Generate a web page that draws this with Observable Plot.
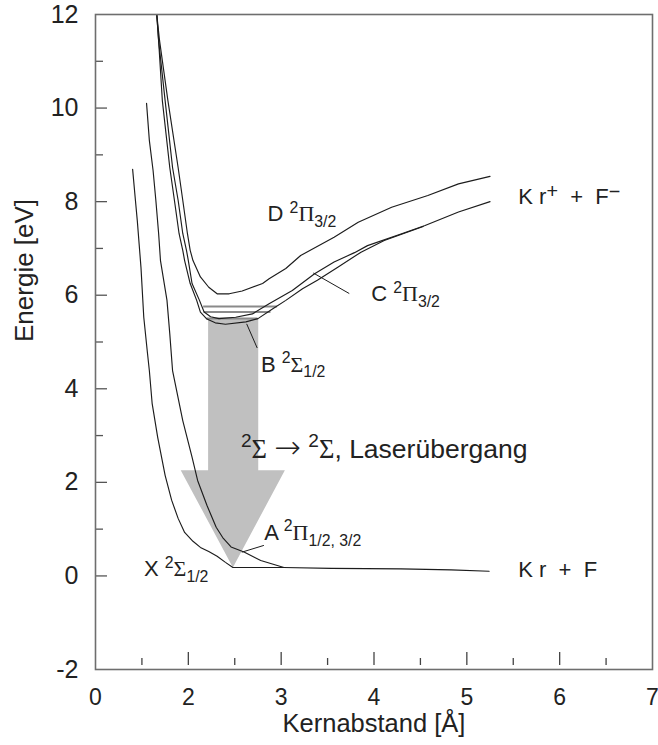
<!DOCTYPE html>
<html><head><meta charset="utf-8">
<script src="https://cdn.jsdelivr.net/npm/d3@7"></script>
<script src="https://cdn.jsdelivr.net/npm/@observablehq/plot@0.6"></script>
<style>
html,body{margin:0;padding:0;background:#fff;}
svg text{white-space:pre;}
</style>
</head><body><div id="chart"></div>
<script>
// Potential curves of KrF: [Kernabstand (Å), Energie (eV)]
const curveX = [[1.40,8.69],[1.43,8.03],[1.45,7.60],[1.49,6.59],[1.52,5.53],[1.56,4.76],[1.58,4.39],[1.61,3.69],[1.67,2.96],[1.75,2.15],[1.82,1.62],[1.89,1.23],[1.96,0.93],[2.05,0.74],[2.13,0.61],[2.22,0.52],[2.31,0.42],[2.40,0.29],[2.48,0.18],[3.03,0.18],[3.54,0.16],[4.29,0.15],[4.83,0.13],[5.24,0.10]];
const curveA = [[1.55,10.10],[1.58,9.31],[1.62,8.67],[1.65,8.03],[1.68,7.32],[1.70,6.74],[1.77,5.89],[1.80,5.18],[1.83,4.39],[1.94,3.32],[2.04,2.54],[2.10,2.04],[2.20,1.51],[2.30,1.04],[2.37,0.82],[2.46,0.62],[2.60,0.51],[2.78,0.33],[3.03,0.18]];
const curveD = [[1.66,12.0],[1.69,11.44],[1.78,10.16],[1.89,8.73],[1.94,8.03],[1.99,7.32],[2.02,6.96],[2.05,6.74],[2.13,6.39],[2.22,6.17],[2.31,6.03],[2.44,6.03],[2.58,6.09],[2.80,6.25],[2.87,6.35],[3.05,6.57],[3.21,6.85],[3.57,7.24],[3.83,7.56],[4.19,7.88],[4.58,8.13],[4.91,8.38],[5.25,8.54]];
const curveC = [[1.66,12.0],[1.68,11.44],[1.75,10.16],[1.83,8.73],[1.89,8.03],[1.94,7.32],[1.98,6.96],[2.00,6.74],[2.04,6.25],[2.12,5.89],[2.17,5.64],[2.24,5.54],[2.33,5.50],[2.51,5.53],[2.69,5.60],[2.87,5.82],[3.12,6.10],[3.36,6.46],[3.57,6.71],[3.79,6.91],[3.93,7.06],[4.29,7.31],[4.55,7.49],[4.91,7.78],[5.25,8.00]];
const curveB = [[1.66,12.0],[1.68,11.44],[1.72,10.16],[1.80,8.73],[1.85,8.03],[1.90,7.32],[1.94,6.96],[1.96,6.74],[2.02,6.25],[2.09,5.89],[2.13,5.64],[2.20,5.49],[2.29,5.41],[2.40,5.38],[2.62,5.43],[2.75,5.50],[2.91,5.71],[3.05,5.89],[3.23,6.14],[3.39,6.32],[3.61,6.60],[3.86,6.92],[4.11,7.17],[4.53,7.47]];

// Vibrational levels in the B state
const levelE  = [5.76, 5.64, 5.50];
const levelR1 = [2.165, 2.17, 2.20];
const levelR2 = [2.96, 2.89, 2.75];

// Laser transition arrow outline
const arrowR = [2.213, 2.753, 2.753, 3.04, 2.48, 1.918, 2.213];
const arrowE = [5.50, 5.50, 2.26, 2.26, 0.18, 2.26, 2.26];

// Leader lines (label -> curve)
const leaderC = [[3.73,6.04],[3.35,6.47]];
const leaderB = [[2.74,4.88],[2.63,5.38]];
const leaderA = [[2.81,0.65],[2.58,0.51]];

// State labels
const labelText = ["D {^2}Π{_3/2}", "C {^2}Π{_3/2}", "B {^2}Σ{_1/2}", "A {^2}Π{_1/2, 3/2}", "X {^2}Σ{_1/2}", "K r{*+}  +  F{*−}", "K r  +  F"];
const labelR = [2.854, 3.970, 2.782, 2.817, 1.522, 5.554, 5.554];
const labelE = [7.73, 6.02, 4.52, 0.92, 0.14, 8.11, 0.13];
const laserText = ["{^2}Σ → {^2}Σ, Laserübergang"];
const laserR = [2.566];
const laserE = [2.705];

// Axes
const xTickValues = [1, 2, 3, 4, 5, 6, 7];
const xTickLabels = ["0", "2", "3", "4", "5", "6", "7"];
const xMajor = [2, 3, 4, 5, 6];
const xMinor = [1.5, 2.5, 3.5, 4.5, 5.5, 6.5];
const yTickValues = [-2, 0, 2, 4, 6, 8, 10, 12];
const yTickLabels = ["-2", "0", "2", "4", "6", "8", "10", "12"];
const yMajor = [0, 2, 4, 6, 8, 10];
const yMinor = [1, 3, 5, 7, 9, 11];
const xTitle = "Kernabstand [Å]";
const yTitle = "Energie [eV]";

const W = 658, H = 745, mL = 95, mR = 6, mT = 14, mB = 76;
const pw = W - mL - mR, ph = H - mT - mB;
const curveStyle = {x: d => d[0], y: d => d[1], stroke: "#1c1c1c", strokeWidth: 1.15};

const plot = Plot.plot({
  width: W, height: H,
  marginLeft: mL, marginRight: mR, marginTop: mT, marginBottom: mB,
  style: {fontFamily: "'Liberation Sans', Arial, sans-serif", background: "#fff", color: "#222", overflow: "visible"},
  x: {domain: [1, 7]},
  y: {domain: [-2, 12]},
  marks: [
    Plot.line(arrowR.map((_, i) => i), {x: i => arrowR[i], y: i => arrowE[i], fill: "#c0c0c0", stroke: "none"}),
    Plot.ruleY(levelE.map((_, i) => i), {y: i => levelE[i], x1: i => levelR1[i], x2: i => levelR2[i], stroke: "#8a8a8a", strokeWidth: 2}),
    Plot.line(curveX, curveStyle),
    Plot.line(curveA, curveStyle),
    Plot.line(curveB, curveStyle),
    Plot.line(curveC, curveStyle),
    Plot.line(curveD, curveStyle),
    Plot.line(leaderC, {...curveStyle, strokeWidth: 1}),
    Plot.line(leaderB, {...curveStyle, strokeWidth: 1}),
    Plot.line(leaderA, {...curveStyle, strokeWidth: 1}),
    Plot.tickY(yMajor, {y: d => d, insetRight: pw - 12, stroke: "#555", strokeWidth: 1.3}),
    Plot.tickY(yMinor, {y: d => d, insetRight: pw - 8, stroke: "#555", strokeWidth: 1.3}),
    Plot.tickX(xMajor, {x: d => d, insetTop: ph - 4 - 13, insetBottom: 4, stroke: "#444", strokeWidth: 1.3}),
    Plot.tickX(xMinor, {x: d => d, insetTop: ph - 4 - 7, insetBottom: 4, stroke: "#444", strokeWidth: 1.3}),
    Plot.frame({stroke: "#6e6e6e", strokeWidth: 1.6}),
    Plot.axisY({ticks: yTickValues, tickFormat: d => yTickLabels[yTickValues.indexOf(d)], tickSize: 0, tickPadding: 17, fontSize: 25, label: null}),
    Plot.axisX({ticks: xTickValues, tickFormat: d => xTickLabels[xTickValues.indexOf(d)], tickSize: 0, tickPadding: 19, fontSize: 23, label: null}),
    Plot.text([xTitle], {text: d => d, frameAnchor: "bottom", dy: 62, fontSize: 25.5}),
    Plot.text([yTitle], {text: d => d, frameAnchor: "left", dx: -71, rotate: -90, fontSize: 26}),
    Plot.text(labelText.map((_, i) => i), {x: i => labelR[i], y: i => labelE[i], text: i => labelText[i], textAnchor: "start", fontSize: 22}),
    Plot.text([0], {x: i => laserR[i], y: i => laserE[i], text: i => laserText[i], textAnchor: "start", fontSize: 26.5})
  ]
});

// Rich text: {^..} superscript, {_..} subscript, {*..} raised full-size sign; Greek in serif
const SVGNS = "http://www.w3.org/2000/svg";
function rich(el, src, size) {
  while (el.firstChild) el.removeChild(el.firstChild);
  el.setAttributeNS("http://www.w3.org/XML/1998/namespace", "xml:space", "preserve");
  const re = /\{([\^_*])([^}]*)\}/g;
  const parts = []; let last = 0, m;
  while ((m = re.exec(src))) {
    if (m.index > last) parts.push(["", src.slice(last, m.index)]);
    parts.push([m[1], m[2]]);
    last = re.lastIndex;
  }
  if (last < src.length) parts.push(["", src.slice(last)]);
  let shift = 0;
  for (const [k, t] of parts) {
    const off = k === "^" ? -0.40 * size : k === "_" ? 0.27 * size : k === "*" ? -0.25 * size : 0;
    const fs = k === "" ? size : k === "*" ? 0.9 * size : 0.72 * size;
    for (const run of (t.match(/[ΣΠ]+|→|[^ΣΠ→]+/g) || [])) {
      const ts = document.createElementNS(SVGNS, "tspan");
      ts.setAttribute("dy", (off - shift).toFixed(2));
      shift = off;
      if (run === "→") {
        ts.setAttribute("font-size", (fs * 1.2).toFixed(2));
        ts.setAttribute("font-family", "'DejaVu Sans', sans-serif");
        ts.setAttribute("font-weight", "200");
      } else {
        ts.setAttribute("font-size", fs.toFixed(2));
        if (/[ΣΠ]/.test(run)) ts.setAttribute("font-family", "'Liberation Serif', 'Times New Roman', serif");
      }
      ts.textContent = run;
      el.appendChild(ts);
    }
  }
}
plot.querySelectorAll("text").forEach(el => {
  const s = el.textContent;
  if (s.includes("{")) {
    const g = el.closest("[font-size]");
    const size = g ? parseFloat(g.getAttribute("font-size")) : 22;
    rich(el, s, size);
  }
});

document.getElementById("chart").appendChild(plot);
</script>
</body></html>
